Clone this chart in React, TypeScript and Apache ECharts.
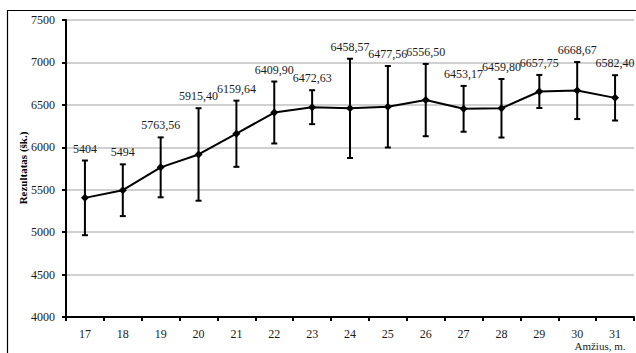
import React, { useEffect, useRef } from "react";
import * as echarts from "echarts";

// Age groups (years) and mean results with their standard deviations
const ages = ["17", "18", "19", "20", "21", "22", "23", "24", "25", "26", "27", "28", "29", "30", "31"];
const means = [5404, 5494, 5763.56, 5915.4, 6159.64, 6409.9, 6472.63, 6458.57, 6477.56, 6556.5, 6453.17, 6459.8, 6657.75, 6668.67, 6582.4];
const deviations = [440, 305, 353, 545, 390, 365, 200, 585, 480, 426, 270, 345, 195, 336, 267];
const yTicks = [4000, 4500, 5000, 5500, 6000, 6500, 7000, 7500];

const SERIF = "Liberation Serif";

const fmt = (v: number) => (Number.isInteger(v) ? String(v) : v.toFixed(2).replace(".", ","));

export default function App() {
  const ref = useRef<HTMLDivElement>(null);

  useEffect(() => {
    if (!ref.current) return;
    const chart = echarts.init(ref.current, null, { renderer: "svg" });

    const errData = means.map((m, i) => [i, m - deviations[i], m + deviations[i], m]);

    chart.setOption({
      animation: false,
      backgroundColor: "#fff",
      textStyle: { fontFamily: SERIF },
      grid: { left: 66, top: 20, right: 2, bottom: 36, containLabel: false },
      xAxis: {
        type: "category",
        data: ages,
        boundaryGap: true,
        axisLine: { lineStyle: { color: "#000", width: 2 } },
        axisTick: { show: true, length: 4, inside: false, lineStyle: { color: "#000", width: 2 } },
        axisLabel: { color: "#1a1a1a", fontFamily: SERIF, fontSize: 12, margin: 11 },
        splitLine: { show: false },
      },
      yAxis: {
        type: "value",
        min: yTicks[0],
        max: yTicks[yTicks.length - 1],
        interval: 500,
        axisLine: { show: true, lineStyle: { color: "#000", width: 2 } },
        axisTick: { show: true, length: 4, lineStyle: { color: "#000", width: 2 } },
        axisLabel: {
          color: "#1a1a1a",
          fontFamily: SERIF,
          fontSize: 12,
          margin: 11,
          formatter: (v: number) => String(v),
        },
        splitLine: { show: true, lineStyle: { color: "#c0c0c0", width: 1.5 } },
      },
      graphic: [
        {
          type: "rect",
          shape: { x: 7.5, y: 10.5, width: 700, height: 400 },
          style: { fill: "none", stroke: "#000", lineWidth: 1.2 },
          silent: true,
          z: 0,
        },
        {
          type: "text",
          x: 23,
          y: 168,
          rotation: Math.PI / 2,
          style: {
            text: "Rezultatas (šk.)",
            fontFamily: SERIF,
            fontSize: 11,
            fontWeight: "bold",
            fill: "#000",
            align: "center",
            verticalAlign: "middle",
          },
        },
        {
          type: "text",
          x: 600,
          y: 346,
          style: {
            text: "Amžius, m.",
            fontFamily: SERIF,
            fontSize: 11,
            fill: "#1a1a1a",
            align: "center",
            verticalAlign: "middle",
          },
        },
      ],
      series: [
        {
          type: "custom",
          data: errData,
          z: 2,
          renderItem: (params: any, api: any) => {
            const idx = api.value(0);
            const top = api.coord([idx, api.value(2)]);
            const bot = api.coord([idx, api.value(1)]);
            const hw = 3;
            const stroke = { stroke: "#000", lineWidth: 2 };
            return {
              type: "group",
              children: [
                { type: "line", shape: { x1: top[0], y1: top[1], x2: bot[0], y2: bot[1] }, style: stroke },
                { type: "line", shape: { x1: top[0] - hw, y1: top[1], x2: top[0] + hw, y2: top[1] }, style: stroke },
                { type: "line", shape: { x1: bot[0] - hw, y1: bot[1], x2: bot[0] + hw, y2: bot[1] }, style: stroke },
                {
                  type: "text",
                  x: top[0],
                  y: top[1] - 12,
                  style: {
                    text: fmt(api.value(3)),
                    fontFamily: SERIF,
                    fontSize: 12,
                    fill: "#1a1a1a",
                    align: "center",
                    verticalAlign: "middle",
                  },
                },
              ],
            };
          },
        },
        {
          type: "line",
          data: means,
          z: 3,
          symbol: "diamond",
          symbolSize: 8,
          lineStyle: { color: "#000", width: 2 },
          itemStyle: { color: "#000" },
        },
      ],
    });

    return () => chart.dispose();
  }, []);

  return (
    <div
      ref={ref}
      style={{ position: "fixed", left: 0, top: 0, width: 636, height: 353, background: "#fff" }}
    />
  );
}
